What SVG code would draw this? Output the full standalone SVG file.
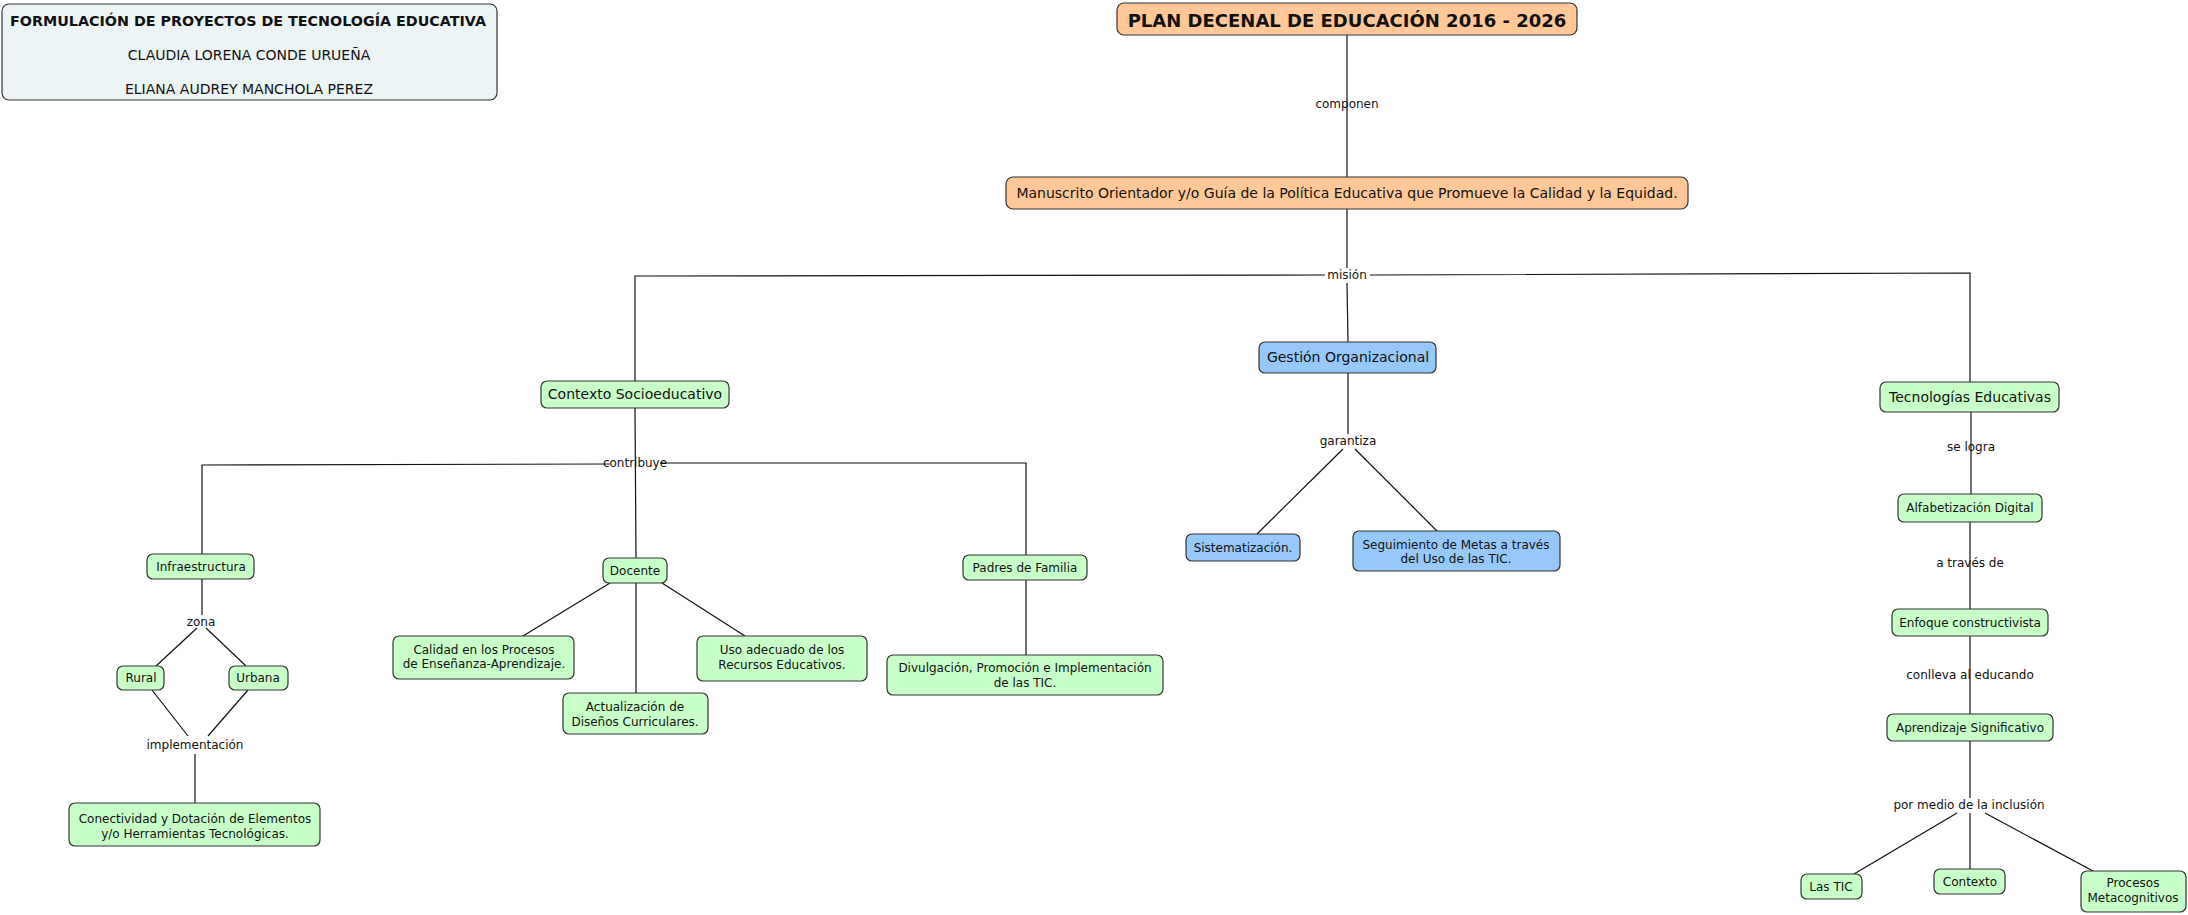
<svg xmlns="http://www.w3.org/2000/svg" width="2188" height="915" viewBox="0 0 2188 915">
<style>
.n rect{stroke:#333;stroke-width:1.2}
.g rect{fill:#c8ffc8}
.b rect{fill:#96c8fa}
.o rect{fill:#ffc896}
.t rect{fill:#edf4f5}
text{font-family:"DejaVu Sans","Verdana",sans-serif;fill:#111;text-anchor:middle}
.s12{font-size:12px}
.s14{font-size:14px}
.bd{font-weight:bold}
.c line,.c polyline{stroke:#111;stroke-width:1.2;fill:none}
.lbl text{font-size:12px}
</style>
<rect width="2188" height="915" fill="#fff"/>
<g class="c" id="connectors">
<line x1="1347" y1="35" x2="1347" y2="177"/>
<line x1="1347" y1="209" x2="1347" y2="268"/>
<line x1="1347" y1="283" x2="1348" y2="342"/>
<polyline points="1325,275 635,276 635,381"/>
<polyline points="1370,275 1970,273 1970,382"/>
<line x1="635" y1="408" x2="636" y2="558"/>
<polyline points="610,464 202,465 202,554"/>
<polyline points="660,463 1026,463 1026,555"/>
<line x1="202" y1="579" x2="202" y2="615"/>
<line x1="197" y1="628" x2="156" y2="666"/>
<line x1="206" y1="628" x2="246" y2="666"/>
<line x1="152" y1="690" x2="188" y2="736"/>
<line x1="248" y1="690" x2="208" y2="736"/>
<line x1="195" y1="754" x2="195" y2="803"/>
<line x1="610" y1="583" x2="523" y2="636"/>
<line x1="636" y1="583" x2="636" y2="693"/>
<line x1="662" y1="583" x2="745" y2="636"/>
<line x1="1026" y1="580" x2="1026" y2="655"/>
<line x1="1348" y1="373" x2="1348" y2="434"/>
<line x1="1343" y1="449" x2="1257" y2="534"/>
<line x1="1355" y1="449" x2="1437" y2="531"/>
<line x1="1971" y1="412" x2="1971" y2="494"/>
<line x1="1970" y1="522" x2="1970" y2="609"/>
<line x1="1970" y1="636" x2="1970" y2="714"/>
<line x1="1970" y1="741" x2="1970" y2="798"/>
<line x1="1957" y1="813" x2="1854" y2="874"/>
<line x1="1970" y1="813" x2="1970" y2="869"/>
<line x1="1985" y1="813" x2="2093" y2="871"/>
</g>
<g class="lbl" id="labels">
<text x="1347" y="108">componen</text>
<text x="1347" y="279">misión</text>
<text x="635" y="467">contribuye</text>
<text x="201" y="626">zona</text>
<text x="195" y="749">implementación</text>
<text x="1348" y="445">garantiza</text>
<text x="1971" y="451">se logra</text>
<text x="1970" y="567">a través de</text>
<text x="1970" y="679">conlleva al educando</text>
<text x="1969" y="809">por medio de la inclusión</text>
</g>
<g id="title" class="n t"><rect x="2" y="4" width="495" height="96" rx="7"/>
<text class="bd" style="font-size:14.3px" x="248" y="26">FORMULACIÓN DE PROYECTOS DE TECNOLOGÍA EDUCATIVA</text>
<text class="s14" x="249" y="60">CLAUDIA LORENA CONDE URUEÑA</text>
<text class="s14" x="249" y="94">ELIANA AUDREY MANCHOLA PEREZ</text></g>
<g id="plan" class="n o"><rect x="1117" y="3" width="460" height="32" rx="7"/>
<text class="bd" style="font-size:18px" x="1347" y="27">PLAN DECENAL DE EDUCACIÓN 2016 - 2026</text></g>
<g id="manuscrito" class="n o"><rect x="1006" y="177" width="682" height="32" rx="7"/>
<text class="s14" x="1347" y="198">Manuscrito Orientador y/o Guía de la Política Educativa que Promueve la Calidad y la Equidad.</text></g>
<g id="contexto-socio" class="n g"><rect x="541" y="381" width="188" height="27" rx="6"/>
<text class="s14" x="635" y="399">Contexto Socioeducativo</text></g>
<g id="gestion" class="n b"><rect x="1259" y="342" width="177" height="31" rx="6"/>
<text class="s14" x="1348" y="362">Gestión Organizacional</text></g>
<g id="tecnologias" class="n g"><rect x="1880" y="382" width="179" height="30" rx="6"/>
<text class="s14" x="1970" y="402">Tecnologías Educativas</text></g>
<g id="infraestructura" class="n g"><rect x="147" y="554" width="107" height="25" rx="6"/>
<text class="s12" x="201" y="571">Infraestructura</text></g>
<g id="rural" class="n g"><rect x="117" y="666" width="47" height="24" rx="6"/>
<text class="s12" x="141" y="682">Rural</text></g>
<g id="urbana" class="n g"><rect x="229" y="666" width="59" height="24" rx="6"/>
<text class="s12" x="258" y="682">Urbana</text></g>
<g id="conectividad" class="n g"><rect x="69" y="803" width="251" height="43" rx="6"/>
<text class="s12" x="195" y="823">Conectividad y Dotación de Elementos</text>
<text class="s12" x="195" y="838">y/o Herramientas Tecnológicas.</text></g>
<g id="docente" class="n g"><rect x="603" y="558" width="64" height="25" rx="6"/>
<text class="s12" x="635" y="575">Docente</text></g>
<g id="calidad" class="n g"><rect x="393" y="636" width="181" height="43" rx="6"/>
<text class="s12" x="484" y="654">Calidad en los Procesos</text>
<text class="s12" x="484" y="668">de Enseñanza-Aprendizaje.</text></g>
<g id="actualizacion" class="n g"><rect x="563" y="693" width="145" height="41" rx="6"/>
<text class="s12" x="635" y="711">Actualización de</text>
<text class="s12" x="635" y="726">Diseños Curriculares.</text></g>
<g id="uso" class="n g"><rect x="697" y="636" width="170" height="45" rx="6"/>
<text class="s12" x="782" y="654">Uso adecuado de los</text>
<text class="s12" x="782" y="669">Recursos Educativos.</text></g>
<g id="padres" class="n g"><rect x="963" y="555" width="124" height="25" rx="6"/>
<text class="s12" x="1025" y="572">Padres de Familia</text></g>
<g id="divulgacion" class="n g"><rect x="887" y="655" width="276" height="40" rx="6"/>
<text class="s12" x="1025" y="672">Divulgación, Promoción e Implementación</text>
<text class="s12" x="1025" y="687">de las TIC.</text></g>
<g id="sistematizacion" class="n b"><rect x="1186" y="534" width="114" height="27" rx="6"/>
<text class="s12" x="1243" y="552">Sistematización.</text></g>
<g id="seguimiento" class="n b"><rect x="1353" y="531" width="207" height="40" rx="6"/>
<text class="s12" x="1456" y="549">Seguimiento de Metas a través</text>
<text class="s12" x="1456" y="563">del Uso de las TIC.</text></g>
<g id="alfabetizacion" class="n g"><rect x="1898" y="494" width="144" height="28" rx="6"/>
<text class="s12" x="1970" y="512">Alfabetización Digital</text></g>
<g id="enfoque" class="n g"><rect x="1892" y="609" width="156" height="27" rx="6"/>
<text class="s12" x="1970" y="627">Enfoque constructivista</text></g>
<g id="aprendizaje" class="n g"><rect x="1887" y="714" width="166" height="27" rx="6"/>
<text class="s12" x="1970" y="732">Aprendizaje Significativo</text></g>
<g id="lastic" class="n g"><rect x="1801" y="874" width="61" height="25" rx="6"/>
<text class="s12" x="1831" y="891">Las TIC</text></g>
<g id="contexto" class="n g"><rect x="1934" y="869" width="71" height="25" rx="6"/>
<text class="s12" x="1970" y="886">Contexto</text></g>
<g id="procesos" class="n g"><rect x="2081" y="871" width="105" height="41" rx="6"/>
<text class="s12" x="2133" y="887">Procesos</text>
<text class="s12" x="2133" y="902">Metacognitivos</text></g>
</svg>
